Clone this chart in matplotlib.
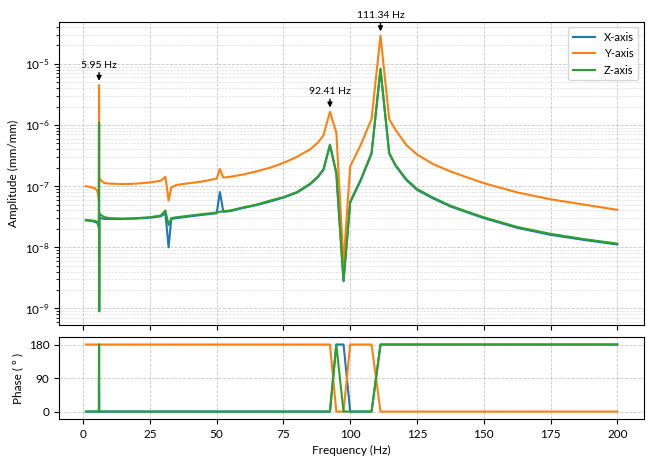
import matplotlib
matplotlib.use('Agg')
import matplotlib.pyplot as plt

plt.rcParams['font.family'] = ['Lato', 'DejaVu Sans']

# frequency points (Hz)
freq = [1, 3, 4.5, 5.3, 5.7, 5.9, 5.95, 6.0, 6.05, 6.5, 8, 10, 15, 20, 25, 29, 30.8, 32, 33, 35,
        40, 45, 50, 51.2, 52.5, 55, 60, 65, 70, 75, 80, 85, 88, 90, 92.41,
        94.8, 97.5, 100, 104, 108, 111.34, 114.6, 117, 121, 125, 131, 137.5,
        144, 150, 162.5, 175, 187.5, 200]

# amplitude (mm/mm)
amp_x = [2.75e-8, 2.7e-8, 2.6e-8, 2.5e-8, 2.3e-8, 2.1e-8, 1.0e-6, 9.0e-10, 3.1e-8, 3.0e-8, 2.9e-8,
         2.9e-8, 2.9e-8, 2.95e-8, 3.05e-8, 3.2e-8, 3.6e-8, 1.0e-8, 2.9e-8, 3.0e-8,
         3.2e-8, 3.4e-8, 3.6e-8, 8.0e-8, 3.8e-8, 3.9e-8, 4.4e-8, 4.9e-8, 5.6e-8,
         6.5e-8, 7.8e-8, 1.07e-7, 1.42e-7, 1.85e-7, 4.7e-7,
         1.62e-7, 2.8e-9, 5.4e-8, 1.25e-7, 3.4e-7, 8.1e-6, 3.4e-7, 2.15e-7,
         1.26e-7, 8.7e-8, 6.3e-8, 4.65e-8,
         3.7e-8, 3.0e-8, 2.08e-8, 1.6e-8, 1.32e-8, 1.11e-8]
amp_y = [1.0e-7, 9.6e-8, 9.2e-8, 8.3e-8, 7.0e-8, 6.0e-8, 4.5e-6, 1.6e-7, 1.4e-7, 1.25e-7, 1.12e-7,
         1.1e-7, 1.08e-7, 1.1e-7, 1.15e-7, 1.22e-7, 1.42e-7, 5.8e-8, 9.5e-8, 1.05e-7,
         1.12e-7, 1.2e-7, 1.33e-7, 1.9e-7, 1.38e-7, 1.42e-7, 1.55e-7, 1.75e-7, 2.0e-7,
         2.4e-7, 3.0e-7, 4.0e-7, 5.2e-7, 6.8e-7, 1.65e-6,
         7.5e-7, 5.5e-9, 2.1e-7, 4.8e-7, 1.25e-6, 2.9e-5, 1.25e-6, 8.3e-7,
         4.7e-7, 3.3e-7, 2.3e-7, 1.74e-7,
         1.38e-7, 1.12e-7, 7.9e-8, 6.1e-8, 5.0e-8, 4.1e-8]
amp_z = [2.8e-8, 2.75e-8, 2.7e-8, 2.6e-8, 2.4e-8, 2.2e-8, 1.1e-6, 9.0e-10, 3.6e-8, 3.4e-8, 3.1e-8,
         3.0e-8, 2.95e-8, 3.0e-8, 3.1e-8, 3.3e-8, 4.0e-8, 2.3e-8, 3.0e-8, 3.1e-8,
         3.3e-8, 3.5e-8, 3.7e-8, 3.8e-8, 3.9e-8, 4.0e-8, 4.5e-8, 5.0e-8, 5.8e-8,
         6.6e-8, 8.0e-8, 1.1e-7, 1.45e-7, 1.9e-7, 4.75e-7,
         1.66e-7, 2.8e-9, 5.6e-8, 1.3e-7, 3.5e-7, 8.3e-6, 3.5e-7, 2.2e-7,
         1.3e-7, 9.0e-8, 6.5e-8, 4.8e-8,
         3.8e-8, 3.1e-8, 2.15e-8, 1.66e-8, 1.36e-8, 1.15e-8]

# phase (degrees)
ph_x = [0, 0, 0, 0, 0, 0, 180, 0, 0, 0, 0, 0, 0, 0, 0, 0, 0, 0, 0, 0,
        0, 0, 0, 0, 0, 0, 0, 0, 0, 0, 0, 0, 0, 0, 0,
        180, 180, 0, 0, 0, 180, 180, 180, 180, 180, 180, 180,
        180, 180, 180, 180, 180, 180]
ph_y = [180, 180, 180, 180, 180, 180, 180, 180, 180, 180, 180, 180, 180, 180, 180, 180, 180, 180, 180, 180,
        180, 180, 180, 180, 180, 180, 180, 180, 180, 180, 180, 180, 180, 180, 180,
        0, 0, 180, 180, 180, 0, 0, 0, 0, 0, 0, 0,
        0, 0, 0, 0, 0, 0]
ph_z = [0, 0, 0, 0, 0, 0, 180, 0, 0, 0, 0, 0, 0, 0, 0, 0, 0, 0, 0, 0,
        0, 0, 0, 0, 0, 0, 0, 0, 0, 0, 0, 0, 0, 0, 0,
        180, 0, 0, 0, 0, 180, 180, 180, 180, 180, 180, 180,
        180, 180, 180, 180, 180, 180]

labels = ['X-axis', 'Y-axis', 'Z-axis']
peaks = [5.95, 92.41, 111.34]

fig = plt.figure(figsize=(6.51, 4.63), dpi=100)
ax1 = fig.add_axes([0.091, 0.298, 0.898, 0.655])
ax2 = fig.add_axes([0.091, 0.095, 0.898, 0.177], sharex=ax1)

# amplitude panel
for amp, lab in zip([amp_x, amp_y, amp_z], labels):
    ax1.plot(freq, amp, lw=1.5, label=lab)
ax1.set_yscale('log')
ax1.set_ylabel('Amplitude (mm/mm)', fontsize=8.5)
ax1.grid(True, which='major', ls='--', color='#b0b0b0', lw=0.6, alpha=0.7)
ax1.grid(True, which='minor', ls='--', color='#c8c8c8', lw=0.5, alpha=0.6)
ax1.tick_params(labelsize=8.5, labelbottom=False)
ax1.legend(loc='upper right', fontsize=8)

for p in peaks:
    a = amp_y[freq.index(p)]
    ax1.annotate(f'{p:.2f} Hz', xy=(p, a), xytext=(0, 11), textcoords='offset points',
                 ha='center', va='bottom', fontsize=7.5,
                 arrowprops=dict(arrowstyle='-|>', color='black', lw=1,
                                 shrinkA=0, shrinkB=3, mutation_scale=7))

# phase panel
for ph in [ph_x, ph_y, ph_z]:
    ax2.plot(freq, ph, lw=1.5)
ax2.set_ylim(-20, 200)
ax2.set_yticks([0, 90, 180])
ax2.set_xticks(range(0, 201, 25))
ax2.set_ylabel('Phase ( ° )', fontsize=8.5)
ax2.set_xlabel('Frequency (Hz)', fontsize=8.5)
ax2.grid(True, ls='--', color='#b0b0b0', lw=0.6, alpha=0.7)
ax2.tick_params(labelsize=8.5)
fig.align_ylabels([ax1, ax2])

fig.savefig('out.png', dpi=100)
